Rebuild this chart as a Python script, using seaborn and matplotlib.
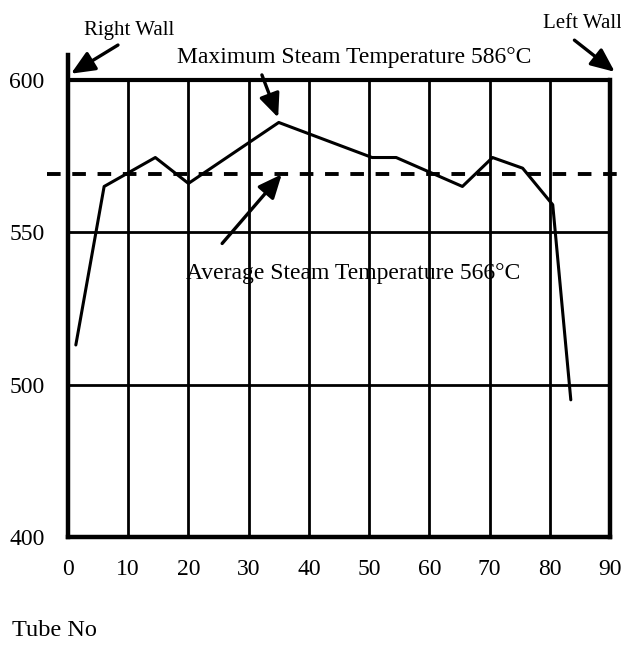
import numpy as np
import pandas as pd
import matplotlib
matplotlib.use('Agg')
import matplotlib.pyplot as plt
import seaborn as sns

# tube number vs steam temperature
tube_no = [1.3, 6, 14.5, 20, 35, 50.5, 54.5, 65.5, 70.5, 75.5, 80.5, 83.5]
steam_temp = [513, 565, 574.5, 566, 586, 574.5, 574.5, 565, 574.5, 571, 559, 495]
avg_line = 569  # where the dashed average line is drawn
x_ticks = [0, 10, 20, 30, 40, 50, 60, 70, 80, 90]
y_ticks = [450, 500, 550, 600]
y_tick_labels = ['400', '500', '550', '600']

data = pd.DataFrame({'Tube No': tube_no, 'Temp': steam_temp})

sns.set_theme(style='white')
plt.rcParams['font.family'] = ['Liberation Serif', 'DejaVu Serif']
plt.rcParams['text.color'] = 'black'

fig = plt.figure(figsize=(6.21, 6.48), dpi=100)
ax = fig.add_axes([0.1095, 0.1713, 0.8727, 0.7432])

# grid lines drawn by hand so they stop at 600
ax.vlines(x_ticks[1:-1], 450, 600, color='black', lw=2)
ax.hlines([500, 550], 0, 90, color='black', lw=2)
ax.hlines(600, 0, 90, color='black', lw=3)

sns.lineplot(x='Tube No', y='Temp', data=data, color='black', lw=2.2, ax=ax)
ax.plot([-3.5, 91.8], [avg_line, avg_line], color='black', lw=2.8,
        linestyle=(0, (3.5, 3)), clip_on=False)

ax.set_xlim(0, 90)
ax.set_ylim(450, 608)
ax.set_xticks(x_ticks)
ax.set_xticklabels([str(t) for t in x_ticks])
ax.set_yticks(y_ticks)
ax.set_yticklabels(y_tick_labels)
ax.tick_params(axis='both', length=0, labelsize=17, colors='black')
ax.tick_params(axis='y', pad=17)
ax.tick_params(axis='x', pad=16)
ax.set_xlabel('')
ax.set_ylabel('')

for s in ['left', 'bottom', 'right']:
    ax.spines[s].set_color('black')
    ax.spines[s].set_linewidth(3.2)
ax.spines['top'].set_visible(False)
ax.spines['right'].set_bounds(450, 600)

arrow = dict(arrowstyle='-|>,head_length=0.8,head_width=0.35', color='black',
             lw=2.4, mutation_scale=18, shrinkA=0, shrinkB=0)
ax.annotate('', xy=(0.5, 602), xytext=(8.3, 611.4), arrowprops=arrow,
            annotation_clip=False)
ax.text(10.1, 616.3, 'Right Wall', fontsize=15, ha='center', va='center')
ax.annotate('', xy=(90.8, 602.6), xytext=(84.1, 613), arrowprops=arrow,
            annotation_clip=False)
ax.text(85.5, 618.6, 'Left Wall', fontsize=15, ha='center', va='center')
ax.annotate('', xy=(34.9, 587.6), xytext=(32.2, 601.6), arrowprops=arrow,
            annotation_clip=False)
ax.text(47.5, 607.2, 'Maximum Steam Temperature 586°C', fontsize=17,
        ha='center', va='center')
ax.annotate('', xy=(35.5, 569), xytext=(25.6, 546.3), arrowprops=arrow,
            annotation_clip=False)
ax.text(47.4, 536.5, 'Average Steam Temperature 566°C', fontsize=17,
        ha='center', va='center')

fig.text(12 / 621, 1 - 630 / 648, 'Tube No', fontsize=17.5, ha='left', va='center')

fig.savefig('out.png', dpi=100)
